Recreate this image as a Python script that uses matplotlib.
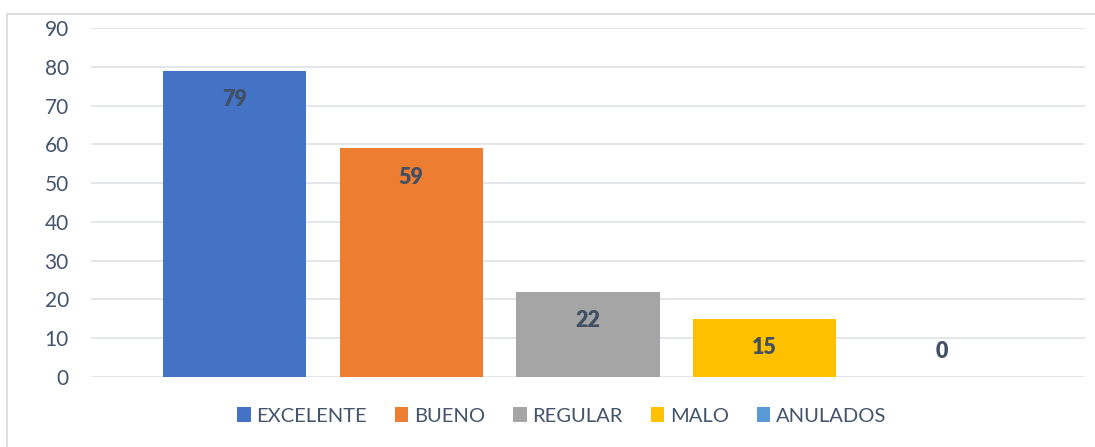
import matplotlib.pyplot as plt
from matplotlib.patches import Rectangle

# data
categories = ['EXCELENTE', 'BUENO', 'REGULAR', 'MALO', 'ANULADOS']
values = [79, 59, 22, 15, 0]
colors = ['#4472C4', '#ED7D31', '#A5A5A5', '#FFC000', '#5B9BD5']
yticks = [0, 10, 20, 30, 40, 50, 60, 70, 80, 90]

text_color = '#44546A'
grid_color = '#E1E4E8'

plt.rcParams['font.family'] = ['Lato', 'DejaVu Sans']

fig = plt.figure(figsize=(10.95, 4.47), dpi=100)
ax = fig.add_axes([91 / 1095, 70 / 447, 994 / 1095, 349 / 447])

# chart border
fig.patches.append(Rectangle((7 / 1095, -0.1), 1.2, (447 - 14) / 447 + 0.1,
                             transform=fig.transFigure, fill=False,
                             edgecolor='#D9D9D9', linewidth=1.2))

x = range(len(categories))
bars = ax.bar(x, values, width=0.81, color=colors, label=categories, zorder=3)

for xi, v in zip(x, values):
    off = -21 if v > 0 else 18
    ax.annotate(str(v), (xi, v), xytext=(0, off), textcoords='offset points',
                ha='center', va='center', fontsize=15.5, fontweight='heavy',
                color='#404F63', zorder=4)

ax.set_xlim(-0.8125, 4.8125)
ax.set_ylim(0, 90)
ax.set_yticks(yticks)
ax.set_xticks([])
ax.tick_params(axis='y', length=0, pad=16, labelsize=15, labelcolor=text_color)
for t in yticks:
    ax.axhline(t, color=grid_color, linewidth=1.3, zorder=1)
for s in ax.spines.values():
    s.set_visible(False)

fig.legend(handles=list(bars), labels=categories, loc='center',
           bbox_to_anchor=(562 / 1095, 31 / 447), ncol=5, frameon=False,
           fontsize=14.5, labelcolor=text_color,
           handlelength=0.65, handleheight=0.7, handletextpad=0.3,
           columnspacing=1.39)

fig.savefig('out.png', dpi=100)
